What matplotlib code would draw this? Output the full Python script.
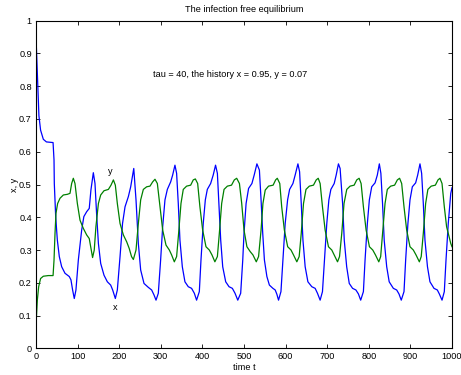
import numpy as np
import matplotlib
matplotlib.use("Agg")
import matplotlib.pyplot as plt

plt.rcParams["font.family"] = ["Liberation Sans", "DejaVu Sans"]

# x (blue)
t_x = [0, 2, 3, 5, 7, 11, 17.6, 25, 41, 43.3,
       44, 47.3, 51.3, 56, 61.7, 69.7, 80, 84, 88, 92,
       96, 101.8, 109.8, 115, 121.8, 128, 132, 137.8, 141.8, 146,
       150, 155.5, 163.5, 171.5, 179.5, 184.3, 190.7, 195.5, 202, 208,
       214, 222, 227.6, 235, 240.4, 246, 251.6, 259.6, 270, 278,
       283.6, 288.5, 294, 299.6, 304.5, 310, 315.7, 323.7, 328.5, 334,
       338, 342, 346, 351.7, 358, 366, 374, 380.6, 386, 392.6,
       396.6, 402, 407, 411.8, 419.8, 426, 431.6, 436, 440, 444,
       448.8, 456, 464, 472, 478.4, 485, 492, 497, 500, 505,
       511, 519, 524.5, 531, 537, 541, 545, 549, 555, 561,
       569.5, 575, 579, 583, 588.8, 593.6, 599, 604.8, 609.6, 617.6,
       623, 629.6, 633.6, 637.6, 641.7, 647, 653.6, 663, 671, 676.6,
       683, 688.6, 693.4, 699, 704, 708.8, 716.8, 721.6, 727, 731,
       737, 741, 746.8, 753, 761, 769, 775, 780.5, 787, 791,
       796.5, 801.3, 807, 815, 820.5, 825.3, 829, 833, 837, 843,
       849, 859, 867, 872.5, 878, 884.6, 888.6, 894, 899, 904.6,
       912.6, 917.5, 923, 927, 931, 935, 941, 947, 956.7, 964.7,
       969.5, 976, 981.5, 985.6, 991, 997, 1000]
x_val = [0.95, 0.88, 0.85, 0.77, 0.71, 0.666, 0.638, 0.63, 0.628, 0.575,
         0.503, 0.402, 0.33, 0.28, 0.249, 0.229, 0.219, 0.209, 0.178, 0.152,
         0.178, 0.27, 0.361, 0.402, 0.417, 0.427, 0.483, 0.536, 0.503, 0.402,
         0.32, 0.259, 0.223, 0.203, 0.193, 0.178, 0.152, 0.178, 0.28, 0.381,
         0.432, 0.463, 0.493, 0.549, 0.453, 0.32, 0.239, 0.198, 0.186, 0.178,
         0.163, 0.147, 0.168, 0.27, 0.371, 0.453, 0.485, 0.508, 0.529, 0.559,
         0.534, 0.442, 0.33, 0.249, 0.203, 0.188, 0.183, 0.168, 0.147, 0.173,
         0.27, 0.381, 0.453, 0.485, 0.503, 0.529, 0.559, 0.534, 0.432, 0.33,
         0.249, 0.203, 0.188, 0.183, 0.168, 0.147, 0.168, 0.27, 0.351, 0.442,
         0.488, 0.503, 0.529, 0.563, 0.544, 0.453, 0.351, 0.27, 0.219, 0.193,
         0.183, 0.178, 0.165, 0.147, 0.173, 0.27, 0.381, 0.453, 0.485, 0.503,
         0.529, 0.563, 0.539, 0.442, 0.33, 0.249, 0.203, 0.188, 0.183, 0.168,
         0.147, 0.173, 0.27, 0.381, 0.453, 0.485, 0.503, 0.529, 0.563, 0.549,
         0.442, 0.33, 0.249, 0.198, 0.183, 0.178, 0.166, 0.147, 0.173, 0.27,
         0.381, 0.453, 0.493, 0.505, 0.529, 0.563, 0.534, 0.442, 0.33, 0.249,
         0.203, 0.183, 0.178, 0.166, 0.147, 0.173, 0.27, 0.381, 0.453, 0.493,
         0.505, 0.529, 0.563, 0.534, 0.442, 0.33, 0.249, 0.203, 0.183, 0.178,
         0.166, 0.147, 0.173, 0.27, 0.381, 0.473, 0.49]

# y (green)
t_y = [0, 3.2, 6.4, 11, 17.6, 29.6, 41, 43.3, 45.7, 48,
       52, 57.7, 65.7, 75.3, 81.7, 85.7, 89.7, 93.7, 99.4, 105.8,
       113.8, 121.8, 128, 132, 136, 140, 144, 150, 155.5, 163.5,
       174, 180.3, 186, 190.7, 195.5, 202, 210, 218, 224, 229.6,
       234, 240.4, 246, 251.6, 258, 266, 274, 280.4, 286, 291.7,
       298, 304.5, 312.5, 320.5, 326, 332.5, 338, 342.8, 348.5, 354,
       362, 371.8, 378, 383, 388.6, 394, 400.6, 408.6, 416.6, 423,
       430, 436, 440.7, 446.3, 452, 460, 470, 476.7, 482.4, 489,
       494.5, 500, 507, 515, 521.5, 529.5, 535, 541, 545.5, 551,
       559, 570, 576, 580, 586, 590.6, 597, 605, 613, 619,
       627, 632.6, 637.6, 643, 649, 657, 667, 673.6, 678.4, 683,
       688.6, 695, 703, 711, 716.8, 724.8, 729.6, 735, 740.4, 747,
       755, 764.7, 771, 776.7, 781.5, 787, 793.5, 801.5, 809.5, 816,
       824, 828.5, 833, 839, 844.5, 852.6, 862, 868.6, 874, 879,
       884.6, 891, 899, 907, 913.5, 921.5, 926, 931, 936.6, 942,
       950, 960, 966.3, 971, 976, 981.5, 987, 997, 1000]
y_val = [0.071, 0.147, 0.188, 0.213, 0.22, 0.222, 0.222, 0.269, 0.351, 0.412,
         0.442, 0.458, 0.468, 0.47, 0.473, 0.503, 0.519, 0.503, 0.442, 0.391,
         0.366, 0.346, 0.335, 0.305, 0.277, 0.3, 0.371, 0.442, 0.468, 0.481,
         0.485, 0.498, 0.514, 0.498, 0.442, 0.381, 0.346, 0.325, 0.305, 0.28,
         0.271, 0.3, 0.381, 0.453, 0.485, 0.493, 0.495, 0.508, 0.516, 0.503,
         0.432, 0.361, 0.315, 0.3, 0.285, 0.264, 0.28, 0.351, 0.442, 0.485,
         0.495, 0.498, 0.514, 0.517, 0.503, 0.432, 0.361, 0.31, 0.3, 0.285,
         0.264, 0.28, 0.351, 0.442, 0.485, 0.495, 0.498, 0.514, 0.519, 0.503,
         0.442, 0.361, 0.31, 0.295, 0.285, 0.264, 0.28, 0.361, 0.442, 0.483,
         0.495, 0.498, 0.514, 0.519, 0.503, 0.432, 0.361, 0.31, 0.3, 0.285,
         0.264, 0.28, 0.351, 0.442, 0.485, 0.495, 0.498, 0.514, 0.519, 0.503,
         0.432, 0.361, 0.31, 0.3, 0.285, 0.264, 0.28, 0.351, 0.442, 0.485,
         0.495, 0.498, 0.514, 0.519, 0.503, 0.432, 0.361, 0.31, 0.3, 0.285,
         0.264, 0.28, 0.351, 0.442, 0.485, 0.495, 0.498, 0.514, 0.519, 0.503,
         0.432, 0.361, 0.31, 0.3, 0.285, 0.264, 0.28, 0.351, 0.442, 0.485,
         0.495, 0.498, 0.514, 0.519, 0.503, 0.432, 0.371, 0.32, 0.31]

x_ticks = np.arange(0, 1001, 100)
y_ticks = np.round(np.arange(0, 1.01, 0.1), 1)
y_tick_labels = ["0", "0.1", "0.2", "0.3", "0.4", "0.5", "0.6", "0.7", "0.8", "0.9", "1"]

fs = 6.6

fig = plt.figure(figsize=(4.61, 3.75), dpi=100)
ax = fig.add_axes([0.0781, 0.0712, 0.9024, 0.8736])

ax.plot(t_x, x_val, color=(0, 0, 1), lw=0.9)
ax.plot(t_y, y_val, color=(0, 0.5, 0), lw=0.9)

ax.set_xlim(0, 1000)
ax.set_ylim(0, 1)
ax.set_xticks(x_ticks)
ax.set_yticks(y_ticks)
ax.set_yticklabels(y_tick_labels)
ax.tick_params(direction="in", length=3, width=0.6, labelsize=fs,
               top=True, right=True, pad=3)
for s in ax.spines.values():
    s.set_linewidth(0.8)

ax.set_title("The infection free equilibrium", fontsize=fs, pad=6)
ax.set_xlabel("time t", fontsize=fs, labelpad=1)
ax.set_ylabel("x, y", fontsize=fs, labelpad=0)

ax.text(282, 0.837, "tau = 40, the history x = 0.95, y = 0.07", fontsize=fs,
        ha="left", va="center")
ax.text(178, 0.539, "y", fontsize=fs, ha="center", va="center")
ax.text(190, 0.124, "x", fontsize=fs, ha="center", va="center")

fig.savefig("out.png", dpi=100)
